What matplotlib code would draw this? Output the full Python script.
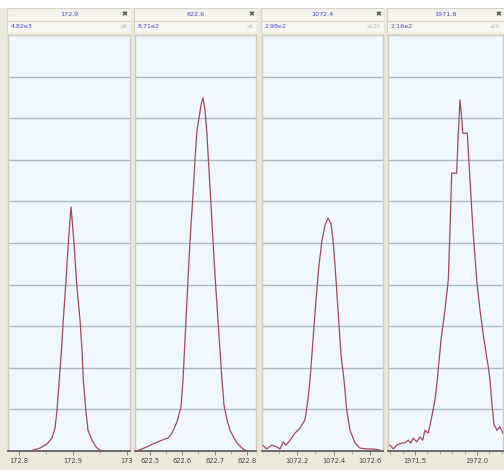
import matplotlib
matplotlib.use("Agg")
import matplotlib.pyplot as plt
from matplotlib.patches import Rectangle

W, H = 504, 470

# header texts
titles = ["172.9", "622.6", "1072.4", "1971.8"]
scales = ["4.82e3", "8.71e2", "2.98e2", "2.16e2"]
zooms = ["x8", "x6", "x120", "x20"]

# peak traces, y in % of full scale
p1_x = [172.8204, 172.8389, 172.8519, 172.8611, 172.8667, 172.8704, 172.8746, 172.8787,
        172.8820, 172.8865, 172.8913, 172.8963, 172.9019, 172.9069, 172.9130, 172.9167,
        172.9191, 172.9235, 172.9278, 172.9352, 172.9426, 172.9500, 172.9556]
p1_y = [0, 0.7, 1.7, 3.1, 5.5, 9.9, 17.1, 24.3, 31.5, 39.9, 50.0, 58.7, 50.0, 39.9,
        31.5, 24.3, 17.1, 10.1, 5.0, 2.6, 1.0, 0.2, 0]

p2_x = [622.4598, 622.4752, 622.4907, 622.5093, 622.5310, 622.5464, 622.5557, 622.5681,
        622.5836, 622.5960, 622.6022, 622.6084, 622.6146, 622.6207, 622.6269, 622.6331,
        622.6393, 622.6455, 622.6517, 622.6579, 622.6641, 622.6703, 622.6765, 622.6827,
        622.6889, 622.6950, 622.7012, 622.7074, 622.7136, 622.7198, 622.7229, 622.7291,
        622.7384, 622.7477, 622.7601, 622.7693, 622.7786, 622.7879, 622.8003, 622.8096]
p2_y = [0, 0.5, 1.0, 1.7, 2.4, 2.9, 3.1, 4.3, 7.0, 10.6, 17.1, 26.7, 36.3, 45.9, 54.3,
        61.5, 70.0, 77.2, 80.0, 83.2, 84.9, 82.0, 76.0, 67.5, 59.1, 50.7, 42.3, 35.1,
        27.9, 20.7, 17.1, 11.1, 7.5, 5.0, 3.1, 1.9, 1.2, 0.5, 0, 0]

p3_x = [1072.0153, 1072.0340, 1072.0614, 1072.0888, 1072.1068, 1072.1249, 1072.1397,
        1072.1616, 1072.1890, 1072.2164, 1072.2438, 1072.2603, 1072.2712, 1072.2877,
        1072.3041, 1072.3205, 1072.3370, 1072.3534, 1072.3699, 1072.3863, 1072.3973,
        1072.4082, 1072.4192, 1072.4301, 1072.4411, 1072.4575, 1072.4723, 1072.4904,
        1072.5178, 1072.5452, 1072.5819, 1072.6164, 1072.6548]
p3_y = [1.3, 0.5, 1.4, 1.0, 0.5, 2.2, 1.4, 2.6, 4.3, 5.5, 7.5, 12.3, 17.1, 26.7, 36.3,
        44.7, 50.7, 54.3, 56.0, 54.6, 50.7, 44.7, 37.5, 30.3, 23.1, 17.1, 9.9, 5.0, 1.9,
        0.7, 0.5, 0.5, 0.2]

p4_x = [1971.2984, 1971.3250, 1971.3524, 1971.3927, 1971.4194, 1971.4460, 1971.4653,
        1971.4863, 1971.5137, 1971.5403, 1971.5621, 1971.5806, 1971.6073, 1971.6347,
        1971.6613, 1971.6798, 1971.7097, 1971.7419, 1971.7685, 1971.7823, 1971.7960,
        1971.8363, 1971.8468, 1971.8629, 1971.8750, 1971.8847, 1971.9218, 1971.9435,
        1971.9677, 1971.9976, 1972.0242, 1972.0565, 1972.0887, 1972.1048, 1972.1210,
        1972.1371, 1972.1613, 1972.1855, 1972.2097, 1972.2339]
p4_y = [1.4, 0.5, 1.4, 1.9, 2.0, 2.6, 1.9, 3.1, 2.2, 3.4, 2.6, 5.0, 4.3, 8.2, 12.3, 17.1,
        26.7, 33.9, 41.1, 53.1, 66.8, 66.8, 74.8, 84.4, 80.8, 76.4, 76.4, 65.1, 53.1, 41.1,
        33.9, 26.7, 20.7, 17.1, 11.1, 6.3, 5.0, 5.8, 4.3, 2.6]

xlims = [(172.7796, 173.0056), (622.4536, 622.8282), (1072.0082, 1072.6712), (1971.2823, 1972.2097)]
major_ticks = [[172.8, 172.9, 173.0], [622.5, 622.6, 622.7, 622.8],
               [1072.2, 1072.4, 1072.6], [1971.5, 1972.0]]
tick_labels = [["172.8", "172.9", "173"], ["622.5", "622.6", "622.7", "622.8"],
               ["1072.2", "1072.4", "1072.6"], ["1971.5", "1972.0"]]
minor_ticks = [[172.85, 172.95], [622.55, 622.65, 622.75],
               [1072.1, 1072.3, 1072.5], [1971.3, 1971.4, 1971.6, 1971.7, 1971.8, 1971.9, 1972.1, 1972.2]]

traces = [(p1_x, p1_y), (p2_x, p2_y), (p3_x, p3_y), (p4_x, p4_y)]
panel_px = [(8, 130), (135, 256), (262, 383), (388, 503)]
top_px, bot_px = 35, 451

BG = "#ebe8dc"
PLOT_BG = "#f0f8fe"
GRID = "#a9b8c4"
LINE = "#a2485a"
BLUE = "#4a4ad0"


def rect(x0, y0, x1, y1):
    return [x0 / W, 1 - y1 / H, (x1 - x0) / W, (y1 - y0) / H]


fig = plt.figure(figsize=(W / 100, H / 100), dpi=100, facecolor=BG)
fig.patches.append(Rectangle((0, 1 - 8 / H), 1, 8 / H, transform=fig.transFigure,
                             facecolor="white", edgecolor="none", zorder=0))

for i, (x0, x1) in enumerate(panel_px):
    # header with two rows
    hx = fig.add_axes(rect(x0 - 1, 8, x1 + 1, 33))
    hx.set_xlim(0, 1)
    hx.set_ylim(0, 1)
    hx.axis("off")
    hx.add_patch(Rectangle((0, 0.5), 1, 0.5, facecolor="#f4f3ec", edgecolor="#d6d2c4", lw=0.8))
    hx.add_patch(Rectangle((0, 0), 1, 0.5, facecolor="#f7f6f1", edgecolor="#d6d2c4", lw=0.8))
    hx.text(0.5, 0.74, titles[i], ha="center", va="center", fontsize=4.6, color=BLUE)
    hx.text(0.95, 0.74, "\u2716", ha="center", va="center", fontsize=5, color="#505050")
    hx.text(0.03, 0.24, scales[i], ha="left", va="center", fontsize=4.6, color=BLUE)
    hx.text(0.97, 0.24, zooms[i], ha="right", va="center", fontsize=4, color="#b8b8b8")

    ax = fig.add_axes(rect(x0, top_px, x1, bot_px))
    ax.set_facecolor(PLOT_BG)
    xs, ys = traces[i]
    ax.plot(xs, ys, color=LINE, lw=0.9, zorder=3)
    ax.set_xlim(*xlims[i])
    ax.set_ylim(0, 100)
    for g in range(10, 100, 10):
        ax.axhline(g, color=GRID, lw=1.0, zorder=1)
    ax.set_yticks([])
    ax.set_xticks(major_ticks[i])
    ax.set_xticklabels(tick_labels[i])
    ax.set_xticks(minor_ticks[i], minor=True)
    ax.tick_params(axis="x", which="major", length=3, width=0.6, color="#707070",
                   labelsize=4.8, labelcolor="#404040", pad=2)
    ax.tick_params(axis="x", which="minor", length=1.8, width=0.5, color="#909090")
    for side in ["left", "right", "top"]:
        ax.spines[side].set_color("#cfcabb")
        ax.spines[side].set_linewidth(1.0)
    ax.spines["bottom"].set_color("#606060")
    ax.spines["bottom"].set_linewidth(1.3)

fig.savefig("out.png", dpi=100, facecolor=BG)
